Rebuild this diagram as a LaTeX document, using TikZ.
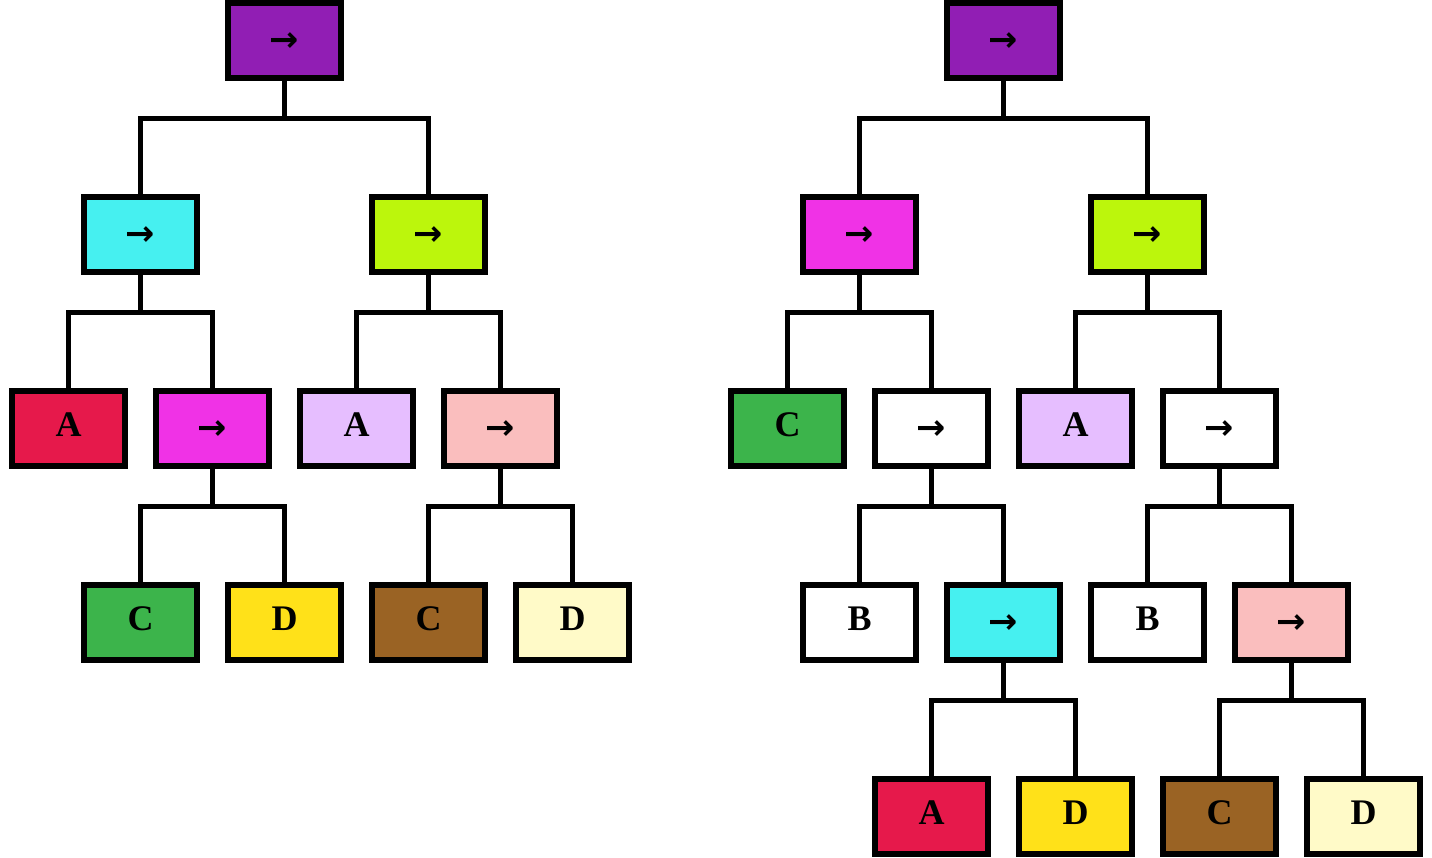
\documentclass[tikz,border=0pt]{standalone}
\usepackage{fontspec}
\setmainfont{Liberation Serif}
\newfontfamily\arrfont{DejaVu Sans}
\usetikzlibrary{calc}
\definecolor{cpurple}{HTML}{911EB4}
\definecolor{ccyan}{HTML}{46F0F0}
\definecolor{clime}{HTML}{BCF60C}
\definecolor{cred}{HTML}{E6194B}
\definecolor{cmagenta}{HTML}{F032E6}
\definecolor{clavender}{HTML}{E6BEFF}
\definecolor{cpink}{HTML}{FABEBE}
\definecolor{cgreen}{HTML}{3CB44B}
\definecolor{cyellow}{HTML}{FFE119}
\definecolor{cbrown}{HTML}{9A6324}
\definecolor{cbeige}{HTML}{FFFAC8}
\tikzset{
  box/.style={draw=black, line width=6pt, minimum width=112.5pt, minimum height=75pt,
    inner sep=0pt, outer sep=0pt, font=\fontsize{36}{40}\selectfont\bfseries},
  lbox/.style={box, text depth=8pt},
  abox/.style={box, font=\arrfont\fontsize{35}{36}\selectfont\bfseries},
  conn/.style={draw=black, line width=5.5pt, line join=miter},
}
\newcommand{\arr}{\raisebox{-11pt}[0pt][0pt]{→}}
\newcommand{\branch}[3]{%
  \draw[conn] (#1.south) -- ++(0,40.5);
  \draw[conn] (#2.north) |- ($(#1.south)+(0,40.5)$) -| (#3.north);}
\begin{document}
\begin{tikzpicture}[x=1pt,y=-1pt]
\useasboundingbox (0,0) rectangle (1432,857);
\def\ya{40.5}\def\yb{234.5}\def\yc{428.5}\def\yd{622.5}\def\ye{816.5}
% left tree
\node[abox,fill=cpurple] (L) at (284.5,\ya) {\arr};
\node[abox,fill=ccyan] (L1) at (140.5,\yb) {\arr};
\node[abox,fill=clime] (L2) at (428.5,\yb) {\arr};
\node[lbox,fill=cred] (L11) at (68.5,\yc) {A};
\node[abox,fill=cmagenta] (L12) at (212.5,\yc) {\arr};
\node[lbox,fill=clavender] (L21) at (356.5,\yc) {A};
\node[abox,fill=cpink] (L22) at (500.5,\yc) {\arr};
\node[lbox,fill=cgreen] (L121) at (140.5,\yd) {C};
\node[lbox,fill=cyellow] (L122) at (284.5,\yd) {D};
\node[lbox,fill=cbrown] (L221) at (428.5,\yd) {C};
\node[lbox,fill=cbeige] (L222) at (572.5,\yd) {D};
\branch{L}{L1}{L2}
\branch{L1}{L11}{L12}
\branch{L2}{L21}{L22}
\branch{L12}{L121}{L122}
\branch{L22}{L221}{L222}
% right tree
\node[abox,fill=cpurple] (R) at (1003.5,\ya) {\arr};
\node[abox,fill=cmagenta] (R1) at (859.5,\yb) {\arr};
\node[abox,fill=clime] (R2) at (1147.5,\yb) {\arr};
\node[lbox,fill=cgreen] (R11) at (787.5,\yc) {C};
\node[abox,fill=white] (R12) at (931.5,\yc) {\arr};
\node[lbox,fill=clavender] (R21) at (1075.5,\yc) {A};
\node[abox,fill=white] (R22) at (1219.5,\yc) {\arr};
\node[lbox,fill=white] (R121) at (859.5,\yd) {B};
\node[abox,fill=ccyan] (R122) at (1003.5,\yd) {\arr};
\node[lbox,fill=white] (R221) at (1147.5,\yd) {B};
\node[abox,fill=cpink] (R222) at (1291.5,\yd) {\arr};
\node[lbox,fill=cred] (R1221) at (931.5,\ye) {A};
\node[lbox,fill=cyellow] (R1222) at (1075.5,\ye) {D};
\node[lbox,fill=cbrown] (R2221) at (1219.5,\ye) {C};
\node[lbox,fill=cbeige] (R2222) at (1363.5,\ye) {D};
\branch{R}{R1}{R2}
\branch{R1}{R11}{R12}
\branch{R2}{R21}{R22}
\branch{R12}{R121}{R122}
\branch{R22}{R221}{R222}
\branch{R122}{R1221}{R1222}
\branch{R222}{R2221}{R2222}
\end{tikzpicture}
\end{document}
